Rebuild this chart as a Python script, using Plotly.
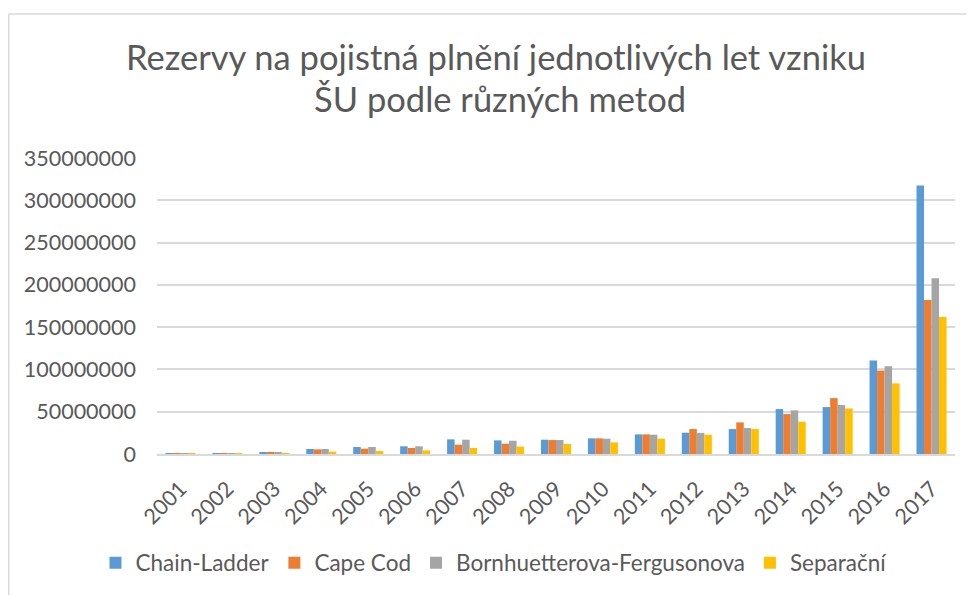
import plotly.graph_objects as go

years = [str(y) for y in range(2001, 2018)]
chain_ladder = [0.2e6, 0.6e6, 2.0e6, 5.9e6, 8.3e6, 9.1e6, 17.3e6, 16.1e6, 16.9e6, 18.5e6,
                23.2e6, 25.2e6, 29.5e6, 53.1e6, 55.5e6, 110.5e6, 317.5e6]
cape_cod = [0.2e6, 1.0e6, 1.5e6, 5.5e6, 6.3e6, 7.1e6, 11.0e6, 12.2e6, 16.5e6, 18.5e6,
            23.2e6, 29.5e6, 37.4e6, 47.2e6, 66.1e6, 98.7e6, 182.0e6]
bf = [0.2e6, 0.8e6, 2.0e6, 5.9e6, 8.3e6, 9.1e6, 16.9e6, 15.7e6, 16.5e6, 18.1e6,
      22.8e6, 25.0e6, 30.7e6, 51.6e6, 57.9e6, 103.8e6, 207.8e6]
separacni = [0.1e6, 0.3e6, 0.5e6, 2.8e6, 3.5e6, 4.3e6, 7.1e6, 8.7e6, 11.8e6, 13.8e6,
             18.1e6, 22.8e6, 29.5e6, 38.2e6, 53.9e6, 83.5e6, 161.9e6]

series_names = ["Chain-Ladder", "Cape Cod", "Bornhuetterova-Fergusonova", "Separační"]
series_values = [chain_ladder, cape_cod, bf, separacni]
colors = ["#5B9BD5", "#ED7D31", "#A5A5A5", "#FFC000"]

tick_vals = [0, 50e6, 100e6, 150e6, 200e6, 250e6, 300e6, 350e6]
tick_text = ["0", "50000000", "100000000", "150000000", "200000000", "250000000", "300000000", "350000000"]

title_lines = ["Rezervy na pojistná plnění jednotlivých let vzniku", "ŠU podle různých metod"]

FONT = "Lato"
TXT = "#595959"

fig = go.Figure()
for name, vals, col in zip(series_names, series_values, colors):
    fig.add_trace(go.Bar(x=years, y=vals, name=name, marker=dict(color=col, line=dict(width=0))))

# the page has an 8px body margin, so figure coordinates = page coordinates - 8
W, H = 966, 587
L, T = 149, 150
PW, PH = 798, 296
R, B = W - L - PW, H - T - PH


def px_x(x):
    return (x - L) / PW


def px_y(y):
    return (T + PH - y) / PH


fig.update_layout(
    width=W, height=H,
    margin=dict(l=L, r=R, t=T, b=B, autoexpand=False),
    paper_bgcolor="white", plot_bgcolor="white",
    barmode="group", bargap=0.36, bargroupgap=0,
    font=dict(family=FONT, color=TXT),
    showlegend=True,
    legend=dict(orientation="h", x=px_x(486), xanchor="center", y=px_y(555), yanchor="middle",
                font=dict(family=FONT, size=22.5, color=TXT), itemwidth=30,
                traceorder="normal"),
    xaxis=dict(type="category", tickangle=-45, tickfont=dict(size=21.5, color=TXT),
               showline=True, linecolor="#D9D9D9", linewidth=1.5, ticks="", showgrid=False,
               ticklabelstandoff=12),
    yaxis=dict(range=[0, 350e6], tickvals=tick_vals, ticktext=tick_text,
               tickfont=dict(size=21.5, color=TXT), showgrid=True, gridcolor="#D9D9D9",
               gridwidth=1.5, zeroline=False, showline=False, ticks="", ticklabelstandoff=20),
    annotations=[
        dict(text=title_lines[0], xref="paper", yref="paper", x=px_x(488), y=px_y(48),
             xanchor="center", yanchor="middle", showarrow=False,
             font=dict(family=FONT, size=34.5, color=TXT)),
        dict(text=title_lines[1], xref="paper", yref="paper", x=px_x(492), y=px_y(90),
             xanchor="center", yanchor="middle", showarrow=False,
             font=dict(family=FONT, size=34.5, color=TXT)),
    ],
    shapes=[
        dict(type="line", xref="paper", yref="paper", x0=px_x(0.75), x1=1.2,
             y0=px_y(6), y1=px_y(6), line=dict(color="#D9D9D9", width=1.5)),
        dict(type="line", xref="paper", yref="paper", x0=px_x(0.75), x1=px_x(0.75),
             y0=px_y(6), y1=-1.0, line=dict(color="#D9D9D9", width=1.5)),
    ],
)

fig.write_html("out.html")
